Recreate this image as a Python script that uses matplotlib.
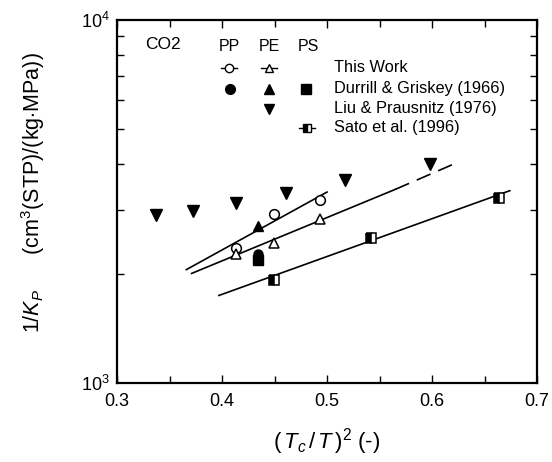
import numpy as np
import matplotlib
matplotlib.use('Agg')
import matplotlib.pyplot as plt
from matplotlib.ticker import LogLocator, MultipleLocator, NullFormatter, FixedLocator

plt.rcParams['font.family'] = ['Liberation Sans', 'DejaVu Sans']
plt.rcParams['mathtext.fontset'] = 'custom'
plt.rcParams['mathtext.rm'] = 'Liberation Sans'
plt.rcParams['mathtext.it'] = 'Liberation Sans:italic'

# This work
pp_x = [0.413, 0.449, 0.493]
pp_y = [2355, 2924, 3196]
pe_x = [0.413, 0.449, 0.493]
pe_y = [2262, 2431, 2833]

# Durrill & Griskey (1966)
dg_pp_x, dg_pp_y = [0.434], [2265]
dg_pe_x, dg_pe_y = [0.434], [2714]
dg_ps_x, dg_ps_y = [0.434], [2187]

# Liu & Prausnitz (1976)
lp_x = [0.337, 0.372, 0.413, 0.461, 0.517, 0.598]
lp_y = [2898, 2973, 3122, 3327, 3614, 4000]

# Sato et al. (1996)
sato_x = [0.449, 0.542, 0.664]
sato_y = [1925, 2504, 3237]

# fitted lines (end points)
pp_fit_x, pp_fit_y = [0.366, 0.500], [2052, 3356]
pe_fit_x, pe_fit_y = [0.371, 0.565], [2003, 3414]
pe_ext_x, pe_ext_y = [0.565, 0.620], [3414, 4001]
ps_fit_x, ps_fit_y = [0.397, 0.674], [1742, 3385]

fig = plt.figure(figsize=(5.52, 4.62), dpi=100)
ax = fig.add_axes([0.212, 0.171, 0.761, 0.786])

lw = 1.2
ax.plot(pp_fit_x, pp_fit_y, color='black', lw=lw)
ax.plot(pe_fit_x, pe_fit_y, color='black', lw=lw)
ax.plot(pe_ext_x, pe_ext_y, color='black', lw=lw, dashes=(9, 5))
ax.plot(ps_fit_x, ps_fit_y, color='black', lw=lw)

ms = 7
ax.plot(lp_x, lp_y, 'v', color='black', ms=8, ls='none')
ax.plot(dg_pe_x, dg_pe_y, '^', color='black', ms=ms, ls='none')
ax.plot(dg_ps_x, dg_ps_y, 's', color='black', ms=6.5, ls='none')
ax.plot(dg_pp_x, dg_pp_y, 'o', color='black', ms=6.5, ls='none')
ax.plot(pp_x, pp_y, 'o', mfc='white', mec='black', mew=1.1, ms=ms, ls='none')
ax.plot(pe_x, pe_y, '^', mfc='white', mec='black', mew=1.1, ms=ms, ls='none')
ax.plot(sato_x, sato_y, 's', fillstyle='left', mfc='black', mfcalt='white',
        mec='black', mew=1.1, ms=ms, ls='none')

ax.set_yscale('log')
ax.set_xlim(0.3, 0.7)
ax.set_ylim(1000, 10000)
ax.xaxis.set_major_locator(MultipleLocator(0.1))
ax.xaxis.set_minor_locator(MultipleLocator(0.05))
ax.yaxis.set_major_locator(FixedLocator([1000, 10000]))
ax.yaxis.set_minor_locator(LogLocator(base=10, subs=np.arange(2, 10)))
ax.yaxis.set_minor_formatter(NullFormatter())
ax.tick_params(which='both', direction='in', top=True, right=True, width=1.0, labelsize=13)
ax.tick_params(which='major', length=6)
ax.tick_params(which='minor', length=5)
ax.tick_params(axis='x', which='major', pad=7)
ax.tick_params(axis='y', which='major', length=0, pad=5)
for s in ax.spines.values():
    s.set_linewidth(1.6)

ax.set_xlabel(r'$(\,T_c\,/\,T\,)^2$ (-)', fontsize=16, labelpad=12)
ax.set_ylabel(r'$1/K_P$      (cm$^3$(STP)/(kg$\cdot$MPa))', fontsize=15.5)
ax.yaxis.set_label_coords(-0.167, 0.525)

# legend drawn by hand
def ax_xy(px, py):
    return (px - 117) / 420.0, (383 - py) / 363.0

tr = ax.transAxes
x0, y0 = ax_xy(145, 45)
ax.text(x0, y0, 'CO2', transform=tr, fontsize=12.5, va='center', ha='left')
for lbl, px in [('PP', 229), ('PE', 269), ('PS', 308)]:
    x, y = ax_xy(px, 47)
    ax.text(x, y, lbl, transform=tr, fontsize=11.5, va='center', ha='center')

row_y = [68, 89, 109, 128]
labels = ['This Work', 'Durrill & Griskey (1966)', 'Liu & Prausnitz (1976)', 'Sato et al. (1996)']
for ry, lbl in zip(row_y, labels):
    x, y = ax_xy(334, ry)
    ax.text(x, y, lbl, transform=tr, fontsize=11.8, va='center', ha='left')

def leg_marker(px, py, seg=False, **kw):
    if seg:
        xa, ya = ax_xy(px - 8, py)
        xb, yb = ax_xy(px + 8, py)
        ax.plot([xa, xb], [ya, yb], transform=tr, color='black', lw=1.0, clip_on=False)
    x, y = ax_xy(px, py)
    ax.plot([x], [y], transform=tr, clip_on=False, ls='none', **kw)

leg_marker(229, 68, True, marker='o', mfc='white', mec='black', mew=1.0, ms=6)
leg_marker(269, 68, True, marker='^', mfc='white', mec='black', mew=1.0, ms=6)
leg_marker(230, 89, marker='o', color='black', ms=7)
leg_marker(269, 89, marker='^', color='black', ms=7)
leg_marker(306, 89, marker='s', color='black', ms=6.5)
leg_marker(269, 109, marker='v', color='black', ms=7)
leg_marker(307, 128, True, marker='s', fillstyle='left', mfc='black', mfcalt='white',
           mec='black', mew=1.0, ms=6)

fig.savefig('out.png', dpi=100)
